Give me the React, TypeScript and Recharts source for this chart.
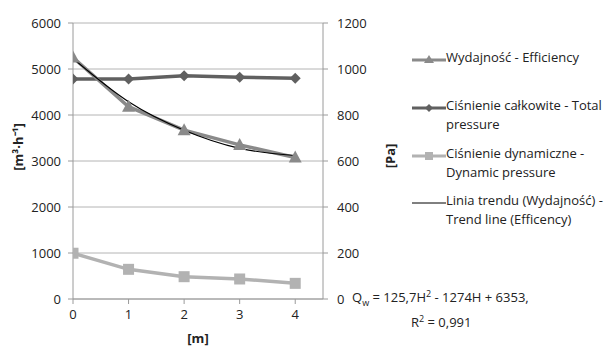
import React from 'react';
import { ComposedChart, Line, XAxis, YAxis, CartesianGrid } from 'recharts';

const positions = [0, 1, 2, 3, 4];
const efficiency = [5250, 4180, 3670, 3350, 3075];
const totalPressure = [957, 957, 971, 964, 960];
const dynamicPressure = [199, 129, 97, 87, 68];
const trendLine = [5230, 4290, 3670, 3275, 3120];
const leftTicks = [0, 1000, 2000, 3000, 4000, 5000, 6000];
const rightTicks = [0, 200, 400, 600, 800, 1000, 1200];
const xTicks = [0, 1, 2, 3, 4];

const legendItems = [
  { lines: ['Wydajność - Efficiency'], color: '#8a8a8a', marker: 'triangle', width: 3 },
  { lines: ['Ciśnienie całkowite - Total', 'pressure'], color: '#606060', marker: 'diamond', width: 3 },
  { lines: ['Ciśnienie dynamiczne -', 'Dynamic pressure'], color: '#b2b2b2', marker: 'square', width: 3 },
  { lines: ['Linia trendu (Wydajność) -', 'Trend line (Efficency)'], color: '#000000', marker: 'none', width: 1 },
];

const data = positions.map((x, i) => ({
  x,
  eff: efficiency[i],
  tot: totalPressure[i],
  dyn: dynamicPressure[i],
  trend: trendLine[i],
}));

const FONT = '"Open Sans", "Liberation Sans", sans-serif';

const Triangle = (props: any) => {
  const { cx, cy, fill } = props;
  if (cx == null || cy == null) return null;
  return <polygon points={`${cx},${cy - 7} ${cx + 6.5},${cy + 5} ${cx - 6.5},${cy + 5}`} fill={fill} />;
};
const Diamond = (props: any) => {
  const { cx, cy, fill } = props;
  if (cx == null || cy == null) return null;
  return <polygon points={`${cx},${cy - 5.5} ${cx + 5.5},${cy} ${cx},${cy + 5.5} ${cx - 5.5},${cy}`} fill={fill} />;
};
const Square = (props: any) => {
  const { cx, cy, fill } = props;
  if (cx == null || cy == null) return null;
  return <rect x={cx - 5.5} y={cy - 5.5} width={11} height={11} fill={fill} />;
};

const LegendMarker = ({ type, color, width }: { type: string; color: string; width: number }) => (
  <svg width={34} height={14} style={{ display: 'block' }}>
    <line x1={0} y1={7} x2={34} y2={7} stroke={color} strokeWidth={width} />
    {type === 'triangle' && <polygon points="17,2 22,10 12,10" fill={color} />}
    {type === 'diamond' && <polygon points="17,3 21,7 17,11 13,7" fill={color} />}
    {type === 'square' && <rect x={13} y={3} width={8} height={8} fill={color} />}
  </svg>
);

const legendTops = [50, 98, 146, 193];

export default function App() {
  const tickStyle = { fontFamily: FONT, fontSize: 13, fill: '#222' };
  return (
    <div style={{ position: 'absolute', left: 0, top: 0, width: 610, height: 348, background: '#fff', fontFamily: FONT }}>
      <ComposedChart width={610} height={348} data={data} margin={{ top: 23, right: 220, bottom: 19, left: 0 }}>
        <CartesianGrid yAxisId="left" vertical={false} stroke="#b4b4b4" strokeWidth={1} />
        <XAxis
          dataKey="x"
          type="number"
          domain={[0, 4.5]}
          ticks={xTicks}
          height={30}
          tick={tickStyle}
          tickSize={5}
          tickMargin={6}
          stroke="#9a9a9a"
          tickLine={{ stroke: '#9a9a9a' }}
          allowDataOverflow
        />
        <YAxis
          yAxisId="left"
          domain={[0, 6000]}
          ticks={leftTicks}
          width={73}
          tick={tickStyle}
          tickSize={5}
          tickMargin={7}
          stroke="#9a9a9a"
        />
        <YAxis
          yAxisId="right"
          orientation="right"
          domain={[0, 1200]}
          ticks={rightTicks}
          width={67}
          tick={{ ...tickStyle, textAnchor: 'start' }}
          tickSize={5}
          tickMargin={9}
          stroke="#9a9a9a"
        />
        <Line yAxisId="right" dataKey="dyn" stroke="#b2b2b2" strokeWidth={3.5} dot={<Square fill="#b2b2b2" />} isAnimationActive={false} />
        <Line yAxisId="right" dataKey="tot" stroke="#606060" strokeWidth={3.5} dot={<Diamond fill="#606060" />} isAnimationActive={false} />
        <Line yAxisId="left" dataKey="eff" stroke="#8a8a8a" strokeWidth={3.5} dot={<Triangle fill="#8a8a8a" />} isAnimationActive={false} />
        <Line yAxisId="left" dataKey="trend" type="monotone" stroke="#000" strokeWidth={1.2} dot={false} isAnimationActive={false} />
      </ComposedChart>

      <div style={{ position: 'absolute', left: 18, top: 147, transform: 'translate(-50%, -50%) rotate(-90deg)', fontWeight: 'bold', fontSize: 13, whiteSpace: 'nowrap', color: '#222' }}>
        [m³·h⁻¹]
      </div>
      <div style={{ position: 'absolute', left: 390, top: 156, transform: 'translate(-50%, -50%) rotate(-90deg)', fontWeight: 'bold', fontSize: 13, whiteSpace: 'nowrap', color: '#222' }}>
        [Pa]
      </div>
      <div style={{ position: 'absolute', left: 198, top: 338, transform: 'translate(-50%, -50%)', fontWeight: 'bold', fontSize: 13, lineHeight: '15px', whiteSpace: 'nowrap', color: '#222' }}>
        [m]
      </div>

      {legendItems.map((item, i) => (
        <div key={i} style={{ position: 'absolute', left: 412, top: legendTops[i], display: 'flex', alignItems: 'flex-start' }}>
          <div style={{ marginTop: 3 }}>
            <LegendMarker type={item.marker} color={item.color} width={item.width} />
          </div>
          <div style={{ fontSize: 13, lineHeight: '19px', color: '#222', whiteSpace: 'nowrap', marginTop: -2 }}>
            {item.lines.map((l, j) => (
              <div key={j}>{l}</div>
            ))}
          </div>
        </div>
      ))}

      <div style={{ position: 'absolute', left: 352, top: 286, fontSize: 13, lineHeight: '16px', color: '#222', whiteSpace: 'nowrap' }}>
        <div>
          Q<sub style={{ fontSize: 9 }}>w</sub> = 125,7H<sup style={{ fontSize: 9 }}>2</sup> - 1274H + 6353,
        </div>
        <div style={{ paddingLeft: 59 }}>
          R<sup style={{ fontSize: 9 }}>2</sup> = 0,991
        </div>
      </div>
    </div>
  );
}
